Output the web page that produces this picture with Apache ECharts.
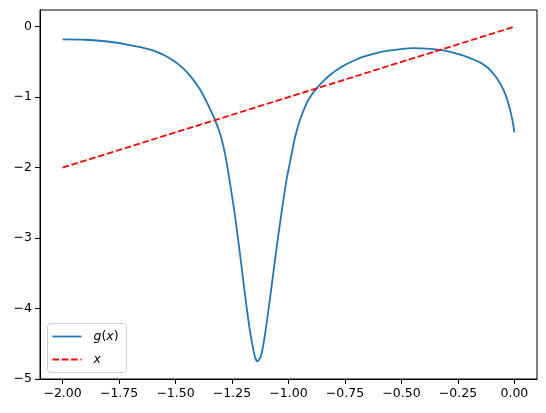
<!DOCTYPE html>
<html>
<head>
<meta charset="utf-8">
<script src="https://cdn.jsdelivr.net/npm/echarts@6/dist/echarts.min.js"></script>
<style>
  html, body { margin: 0; padding: 0; background: #fff; }
  #chart { width: 546px; height: 413px; }
</style>
</head>
<body>
<div id="chart"></div>
<script>
// g(x) curve
const gX = [
  -2.00, -1.90, -1.80, -1.72, -1.65, -1.60, -1.55, -1.51, -1.47, -1.437,
  -1.40, -1.378, -1.35, -1.326, -1.30, -1.28, -1.26, -1.237, -1.215, -1.193,
  -1.171, -1.149, -1.137, -1.119, -1.097, -1.075, -1.052, -1.03, -1.008, -0.99,
  -0.971, -0.949, -0.919, -0.895, -0.875, -0.845, -0.816, -0.78, -0.742, -0.70,
  -0.668, -0.63, -0.594, -0.557, -0.52, -0.446, -0.373, -0.299, -0.225, -0.19,
  -0.151, -0.125, -0.106, -0.085, -0.07, -0.055, -0.04, -0.028, -0.018, -0.008, 0.00
];
const gY = [
  -0.18, -0.185, -0.21, -0.25, -0.295, -0.335, -0.405, -0.48, -0.58, -0.69,
  -0.85, -0.97, -1.15, -1.32, -1.55, -1.82, -2.20, -2.68, -3.22, -3.79,
  -4.31, -4.68, -4.75, -4.64, -4.21, -3.69, -3.12, -2.62, -2.16, -1.87,
  -1.57, -1.32, -1.08, -0.955, -0.875, -0.77, -0.685, -0.60, -0.53, -0.465,
  -0.425, -0.39, -0.36, -0.34, -0.325, -0.305, -0.315, -0.345, -0.41, -0.455,
  -0.51, -0.565, -0.62, -0.70, -0.77, -0.855, -0.96, -1.075, -1.195, -1.34, -1.50
];

// straight line y = x
const lineX = [-2, 0];
const lineY = [-2, 0];

const xTicks = [-2, -1.75, -1.5, -1.25, -1, -0.75, -0.5, -0.25, 0];
const yTicks = [-5, -4, -3, -2, -1, 0];

const FONT = 'DejaVu Sans';
const minus = s => s.replace('-', '\u2212');

const chart = echarts.init(document.getElementById('chart'));

const option = {
  animation: false,
  grid: {
    left: 40, right: 9, top: 10, bottom: 34,
    show: true, borderColor: '#000', borderWidth: 1
  },
  xAxis: {
    type: 'value',
    min: -2.1, max: 0.1,
    splitLine: { show: false },
    axisLine: { onZero: false, lineStyle: { color: '#000', width: 1 } },
    axisTick: { show: true, length: 5, inside: false, customValues: xTicks, lineStyle: { color: '#000' } },
    axisLabel: {
      customValues: xTicks,
      margin: 8,
      color: '#000', fontFamily: FONT, fontSize: 12.5,
      formatter: v => minus(v.toFixed(2))
    }
  },
  yAxis: {
    type: 'value',
    min: -5, max: 0.237,
    splitLine: { show: false },
    axisLine: { show: true, onZero: false, lineStyle: { color: '#000', width: 1 } },
    axisTick: { show: true, length: 5, inside: false, customValues: yTicks, lineStyle: { color: '#000' } },
    axisLabel: {
      customValues: yTicks,
      margin: 8,
      color: '#000', fontFamily: FONT, fontSize: 12.5,
      formatter: v => minus(String(v))
    }
  },
  series: [
    {
      name: 'g(x)',
      type: 'line',
      data: gX.map((x, i) => [x, gY[i]]),
      showSymbol: false,
      smooth: 0.3,
      sampling: null,
      lineStyle: { color: '#1f77b4', width: 1.8, join: 'round', cap: 'butt' },
      z: 2
    },
    {
      name: 'x',
      type: 'line',
      data: lineX.map((x, i) => [x, lineY[i]]),
      showSymbol: false,
      lineStyle: { color: '#ff0000', width: 1.8, type: [6.5, 2.8] },
      z: 3
    }
  ],
  graphic: [
    {
      type: 'group',
      left: 47, top: 323, z: 100,
      children: [
        {
          type: 'rect',
          shape: { x: 0, y: 0, width: 79, height: 49, r: 3 },
          style: { fill: 'rgba(255,255,255,0.8)', stroke: '#cccccc', lineWidth: 1 }
        },
        {
          type: 'line',
          shape: { x1: 5, y1: 13, x2: 34, y2: 13 },
          style: { stroke: '#1f77b4', lineWidth: 1.8 }
        },
        {
          type: 'line',
          shape: { x1: 5, y1: 36, x2: 34, y2: 36 },
          style: { stroke: '#ff0000', lineWidth: 1.8, lineDash: [6.5, 2.8] }
        },
        {
          type: 'text',
          x: 46, y: 13,
          style: {
            text: '{i|g}{n|(}{i|x}{n|)}',
            verticalAlign: 'middle',
            rich: {
              i: { fontFamily: FONT, fontStyle: 'italic', fontSize: 12.5, fill: '#000' },
              n: { fontFamily: FONT, fontSize: 12.5, fill: '#000' }
            }
          }
        },
        {
          type: 'text',
          x: 46, y: 36,
          style: {
            text: 'x', verticalAlign: 'middle',
            fontFamily: FONT, fontStyle: 'italic', fontSize: 12.5, fill: '#000'
          }
        }
      ]
    }
  ]
};

chart.setOption(option);
window.addEventListener('resize', () => chart.resize());
</script>
</body>
</html>
